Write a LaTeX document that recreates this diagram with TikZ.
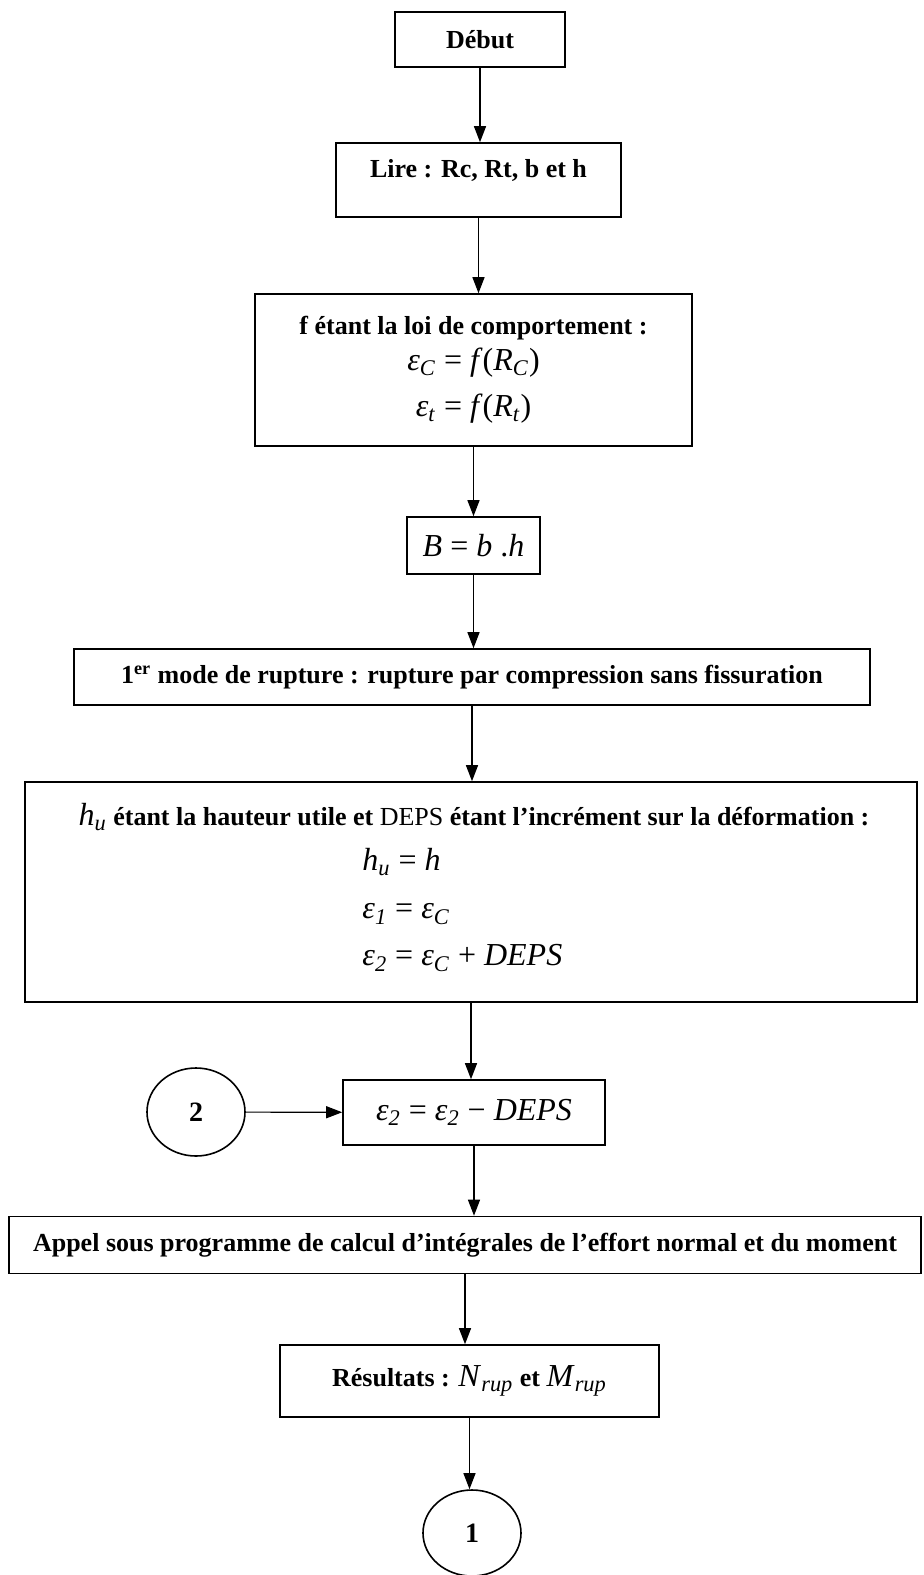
\documentclass[tikz,border=0pt]{standalone}
\usepackage{fontspec}
\setmainfont{Liberation Serif}
\usetikzlibrary{arrows.meta,shapes.geometric}

\newcommand{\indice}[2]{\textit{#1}\textsubscript{\textit{#2}}}
\newcommand{\formule}{\fontsize{16}{19}\selectfont\mdseries}

\tikzset{boite/.style = {draw, rectangle, line width=0.8pt, inner sep=2pt,
                         font=\fontsize{13}{15}\selectfont\bfseries},
         bulle/.style = {draw, ellipse, line width=0.8pt, minimum width=49pt,
                         minimum height=44pt, font=\fontsize{14}{16}\selectfont\bfseries},
         fleche/.style = {-{Triangle[length=8pt,width=6pt]}, line width=0.6pt}
        }

\begin{document}
\begin{tikzpicture}[x=0.5pt,y=-0.5pt]
\useasboundingbox (0,0) rectangle (924,1575);
\node[boite, minimum width=85pt, minimum height=27.5pt] at (480,39.5) (debut) {Début};
\node[boite, minimum width=142.5pt, minimum height=37pt, text depth=12pt] at (478.5,180) (lire) {Lire : Rc, Rt, b et h};
\node[boite, minimum width=218.5pt, minimum height=76pt, align=center] at (473.5,370) (loi)
  {f étant la loi de comportement :\\[3pt]
   {\formule \indice{ε}{C} = \textit{f}(\indice{R}{C})}\\[8pt]
   {\formule \indice{ε}{t} = \textit{f}(\indice{R}{t})}};
\node[boite, minimum width=66.5pt, minimum height=28.5pt, font=\formule] at (473.5,545.5) (bh) {\textit{B} = \textit{b} .\textit{h}};
\node[boite, minimum width=398pt, minimum height=28pt] at (472,677) (mode)
  {1\textsuperscript{er} mode de rupture : rupture par compression sans fissuration};
\node[boite, minimum width=446pt, minimum height=110pt] at (471,892) (hauteur) {};
\node[font=\fontsize{13}{15}\selectfont\bfseries] at (474,817) (hutxt)
  {{\formule\indice{h}{u}} étant la hauteur utile et \textmd{DEPS} étant l’incrément sur la déformation :};
\node[anchor=west, font=\formule, inner sep=0pt] at (362,862) (eqh) {\indice{h}{u} = \textit{h}};
\node[anchor=west, font=\formule, inner sep=0pt] at (362,914) (eqa) {\indice{ε}{1} = \indice{ε}{C}};
\node[anchor=west, font=\formule, inner sep=0pt] at (362,958) (eqb) {\indice{ε}{2} = \indice{ε}{C} + \textit{DEPS}};
\node[boite, minimum width=131pt, minimum height=32.5pt, font=\formule] at (474,1112.5) (moins)
  {\indice{ε}{2} = \indice{ε}{2} − \textit{DEPS}};
\node[bulle] at (196,1112) (deux) {2};
\node[boite, minimum width=456pt, minimum height=28.5pt] at (465,1245) (appel)
  {Appel sous programme de calcul d’intégrales de l’effort normal et du moment};
\node[boite, minimum width=189.5pt, minimum height=36pt] at (469.5,1381) (resultats)
  {Résultats : {\formule\indice{N}{rup}} et {\formule\indice{M}{rup}}};
\node[bulle, minimum height=43pt] at (472,1533) (un) {1};

\draw[fleche] (debut) -- (debut |- lire.north);
\draw[fleche] (lire) -- (lire |- loi.north);
\draw[fleche] (loi) -- (loi |- bh.north);
\draw[fleche] (bh) -- (bh |- mode.north);
\draw[fleche] (mode) -- (mode |- hauteur.north);
\draw[fleche] (hauteur) -- (hauteur |- moins.north);
\draw[fleche] (deux) -- (moins);
\draw[fleche] (moins) -- (moins |- appel.north);
\draw[fleche] (appel) -- (appel |- resultats.north);
\draw[fleche] (resultats) -- (resultats |- un.north);
\end{tikzpicture}
\end{document}
